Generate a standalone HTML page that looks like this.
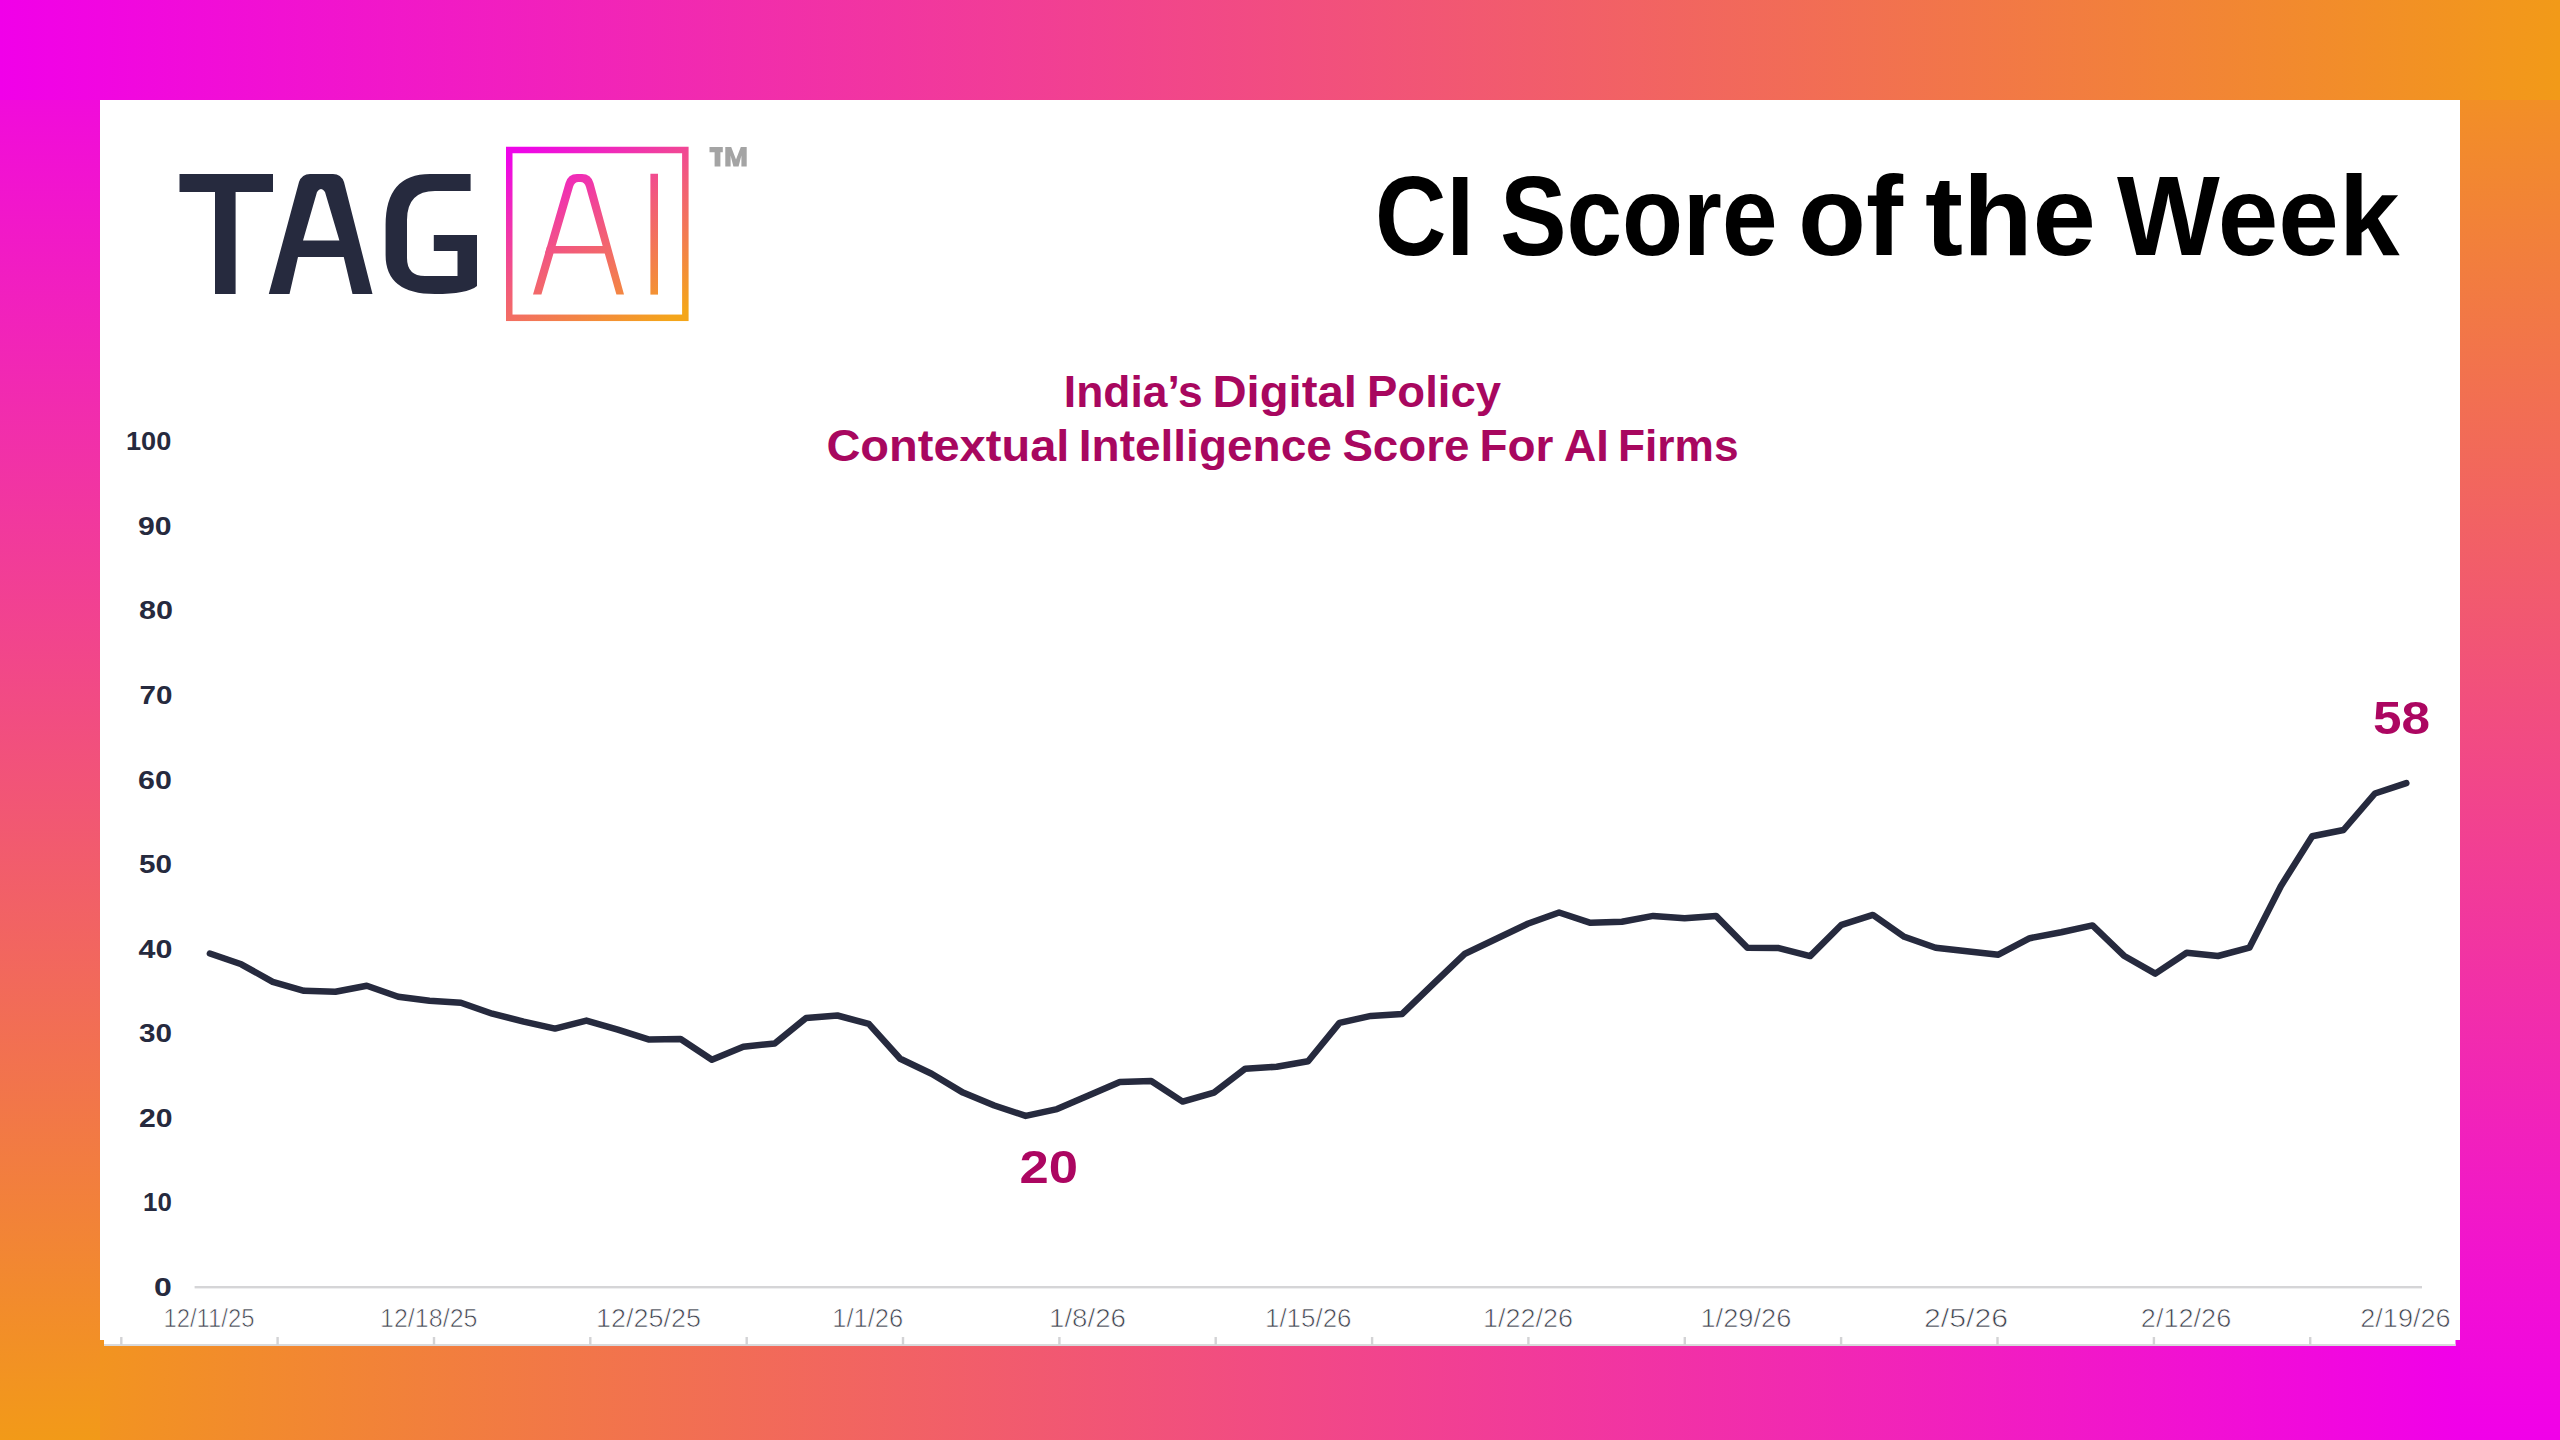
<!DOCTYPE html>
<html><head><meta charset="utf-8">
<style>
html,body{margin:0;padding:0;width:2560px;height:1440px;overflow:hidden;background:#fff}
.bg{position:absolute}
svg{position:absolute;left:0;top:0}
</style></head><body>
<div class="bg" style="left:0;top:0;width:2560px;height:100px;background:linear-gradient(90deg,#F100E9,#F29A18)"></div>
<div class="bg" style="left:0;top:100px;width:100px;height:1340px;background:linear-gradient(180deg,#F10BDB,#F29A18)"></div>
<div class="bg" style="left:2460px;top:100px;width:100px;height:1340px;background:linear-gradient(180deg,#F28F26,#F100E9)"></div>
<div class="bg" style="left:100px;top:1340px;width:2360px;height:100px;background:linear-gradient(90deg,#F29420 0px,#F100E9 2360px)"></div>
<svg width="2560" height="1440" viewBox="0 0 2560 1440">
<defs>
<linearGradient id="aig" x1="540" y1="140" x2="655" y2="328" gradientUnits="userSpaceOnUse">
<stop offset="0" stop-color="#EE06E8"/><stop offset="0.5" stop-color="#F25C7A"/><stop offset="1" stop-color="#F4A51A"/>
</linearGradient>
</defs>
<rect x="100" y="100" width="2360" height="1240" fill="#fff"/>
<rect x="104" y="1340" width="2351.5" height="6" fill="#fff"/>
<rect x="104" y="1344" width="2351.5" height="2" fill="#D9D9DB"/>
<g fill="#D3D3D5"><rect x="120.1" y="1337" width="2.4" height="8"/><rect x="276.4" y="1337" width="2.4" height="8"/><rect x="432.8" y="1337" width="2.4" height="8"/><rect x="589.1" y="1337" width="2.4" height="8"/><rect x="745.5" y="1337" width="2.4" height="8"/><rect x="901.8" y="1337" width="2.4" height="8"/><rect x="1058.2" y="1337" width="2.4" height="8"/><rect x="1214.5" y="1337" width="2.4" height="8"/><rect x="1370.9" y="1337" width="2.4" height="8"/><rect x="1527.2" y="1337" width="2.4" height="8"/><rect x="1683.6" y="1337" width="2.4" height="8"/><rect x="1839.9" y="1337" width="2.4" height="8"/><rect x="1996.3" y="1337" width="2.4" height="8"/><rect x="2152.7" y="1337" width="2.4" height="8"/><rect x="2309.0" y="1337" width="2.4" height="8"/></g>
<g fill="#262A3E">
<path d="M179.5 174 H273 V192 H235.6 V294 H215 V192 H179.5 Z"/>
<path d="M268.8 294 L299 182 Q302 174 310 174 H333 Q341 174 344 182 L372.5 294 H352.5 L343.75 257 H298 L289.5 294 Z M303 240.6 H339.4 L325 192 Q321 186 317 192 Z"/>
<path d="M470.6 174 V191 H435 Q407 191 407 220 V258 Q407 276 425 276 H457.5 V251 H433.8 V235 H477 V286 Q467 294 435 294 Q385.6 294 385.6 255 V225 Q385.6 174 430 174 Z"/>
</g>
<rect x="509.25" y="150" width="176.1" height="167.8" fill="none" stroke="url(#aig)" stroke-width="6.5"/>
<g fill="url(#aig)">
<path d="M533 294.6 L565.5 183 Q568 174 577 174 H582 Q591 174 593.5 183 L624 294.6 H616.4 L586 187 Q584.5 182 580.5 182 H578.5 Q574.5 182 573 187 L541.4 294.6 Z"/>
<path d="M547.15 246 L609.8 246 L612.06 253.6 L544.94 253.6 Z"/>
<rect x="650.4" y="173.75" width="7.6" height="120.85"/>
</g>
<g fill="#A4A4A4">
<path d="M709.5 147 H722.8 V152.3 H720.4 V166.5 H714.6 V152.3 H709.5 Z"/>
<path d="M725.3 147 H731.2 L736 159.5 L740.8 147 H746.7 V166.5 H741.4 V155.5 L738.6 166.5 H733.4 L730.6 155.5 V166.5 H725.3 Z"/>
</g>
<text x="1375.00" y="254.70" font-family="Liberation Sans, sans-serif" font-weight="bold" font-size="114" fill="#000" text-anchor="start" textLength="99.00" lengthAdjust="spacingAndGlyphs">CI</text>
<text x="1500.00" y="254.70" font-family="Liberation Sans, sans-serif" font-weight="bold" font-size="114" fill="#000" text-anchor="start" textLength="277.50" lengthAdjust="spacingAndGlyphs">Score</text>
<text x="1798.00" y="254.70" font-family="Liberation Sans, sans-serif" font-weight="bold" font-size="114" fill="#000" text-anchor="start" textLength="105.00" lengthAdjust="spacingAndGlyphs">of</text>
<text x="1925.00" y="254.70" font-family="Liberation Sans, sans-serif" font-weight="bold" font-size="114" fill="#000" text-anchor="start" textLength="171.00" lengthAdjust="spacingAndGlyphs">the</text>
<text x="2117.00" y="254.70" font-family="Liberation Sans, sans-serif" font-weight="bold" font-size="114" fill="#000" text-anchor="start" textLength="282.50" lengthAdjust="spacingAndGlyphs">Week</text>
<text x="1063.80" y="406.70" font-family="Liberation Sans, sans-serif" font-weight="bold" font-size="45" fill="#A8075F" text-anchor="start" textLength="139.00" lengthAdjust="spacingAndGlyphs">India’s</text>
<text x="1212.40" y="406.70" font-family="Liberation Sans, sans-serif" font-weight="bold" font-size="45" fill="#A8075F" text-anchor="start" textLength="144.50" lengthAdjust="spacingAndGlyphs">Digital</text>
<text x="1367.00" y="406.70" font-family="Liberation Sans, sans-serif" font-weight="bold" font-size="45" fill="#A8075F" text-anchor="start" textLength="134.00" lengthAdjust="spacingAndGlyphs">Policy</text>
<text x="826.40" y="461.30" font-family="Liberation Sans, sans-serif" font-weight="bold" font-size="45" fill="#A8075F" text-anchor="start" textLength="243.00" lengthAdjust="spacingAndGlyphs">Contextual</text>
<text x="1078.80" y="461.30" font-family="Liberation Sans, sans-serif" font-weight="bold" font-size="45" fill="#A8075F" text-anchor="start" textLength="253.00" lengthAdjust="spacingAndGlyphs">Intelligence</text>
<text x="1342.40" y="461.30" font-family="Liberation Sans, sans-serif" font-weight="bold" font-size="45" fill="#A8075F" text-anchor="start" textLength="127.00" lengthAdjust="spacingAndGlyphs">Score</text>
<text x="1479.40" y="461.30" font-family="Liberation Sans, sans-serif" font-weight="bold" font-size="45" fill="#A8075F" text-anchor="start" textLength="74.00" lengthAdjust="spacingAndGlyphs">For</text>
<text x="1563.80" y="461.30" font-family="Liberation Sans, sans-serif" font-weight="bold" font-size="45" fill="#A8075F" text-anchor="start" textLength="45.00" lengthAdjust="spacingAndGlyphs">AI</text>
<text x="1618.00" y="461.30" font-family="Liberation Sans, sans-serif" font-weight="bold" font-size="45" fill="#A8075F" text-anchor="start" textLength="120.50" lengthAdjust="spacingAndGlyphs">Firms</text>
<text x="1019.60" y="1182.70" font-family="Liberation Sans, sans-serif" font-weight="bold" font-size="46.5" fill="#AC0661" text-anchor="start" textLength="58.50" lengthAdjust="spacingAndGlyphs">20</text>
<text x="2373.00" y="734.00" font-family="Liberation Sans, sans-serif" font-weight="bold" font-size="46.5" fill="#AC0661" text-anchor="start" textLength="57.00" lengthAdjust="spacingAndGlyphs">58</text>
<text x="154.00" y="1295.80" font-family="Liberation Sans, sans-serif" font-weight="bold" font-size="25" fill="#262A3E" text-anchor="start" textLength="17.80" lengthAdjust="spacingAndGlyphs">0</text>
<text x="143.00" y="1211.25" font-family="Liberation Sans, sans-serif" font-weight="bold" font-size="25" fill="#262A3E" text-anchor="start" textLength="28.80" lengthAdjust="spacingAndGlyphs">10</text>
<text x="139.00" y="1126.70" font-family="Liberation Sans, sans-serif" font-weight="bold" font-size="25" fill="#262A3E" text-anchor="start" textLength="33.60" lengthAdjust="spacingAndGlyphs">20</text>
<text x="139.00" y="1042.15" font-family="Liberation Sans, sans-serif" font-weight="bold" font-size="25" fill="#262A3E" text-anchor="start" textLength="33.00" lengthAdjust="spacingAndGlyphs">30</text>
<text x="138.50" y="957.60" font-family="Liberation Sans, sans-serif" font-weight="bold" font-size="25" fill="#262A3E" text-anchor="start" textLength="33.85" lengthAdjust="spacingAndGlyphs">40</text>
<text x="139.00" y="873.05" font-family="Liberation Sans, sans-serif" font-weight="bold" font-size="25" fill="#262A3E" text-anchor="start" textLength="33.00" lengthAdjust="spacingAndGlyphs">50</text>
<text x="138.00" y="788.50" font-family="Liberation Sans, sans-serif" font-weight="bold" font-size="25" fill="#262A3E" text-anchor="start" textLength="33.80" lengthAdjust="spacingAndGlyphs">60</text>
<text x="139.50" y="703.95" font-family="Liberation Sans, sans-serif" font-weight="bold" font-size="25" fill="#262A3E" text-anchor="start" textLength="32.95" lengthAdjust="spacingAndGlyphs">70</text>
<text x="139.00" y="619.40" font-family="Liberation Sans, sans-serif" font-weight="bold" font-size="25" fill="#262A3E" text-anchor="start" textLength="34.00" lengthAdjust="spacingAndGlyphs">80</text>
<text x="138.00" y="534.85" font-family="Liberation Sans, sans-serif" font-weight="bold" font-size="25" fill="#262A3E" text-anchor="start" textLength="33.60" lengthAdjust="spacingAndGlyphs">90</text>
<text x="126.00" y="450.30" font-family="Liberation Sans, sans-serif" font-weight="bold" font-size="25" fill="#262A3E" text-anchor="start" textLength="45.30" lengthAdjust="spacingAndGlyphs">100</text>
<text x="163.40" y="1326.60" font-family="Liberation Sans, sans-serif" font-weight="normal" font-size="26" fill="#3E424E" text-anchor="start" textLength="91.00" lengthAdjust="spacingAndGlyphs" stroke="#fff" stroke-width="0.7">12/11/25</text>
<text x="380.00" y="1326.60" font-family="Liberation Sans, sans-serif" font-weight="normal" font-size="26" fill="#3E424E" text-anchor="start" textLength="97.50" lengthAdjust="spacingAndGlyphs" stroke="#fff" stroke-width="0.7">12/18/25</text>
<text x="596.00" y="1326.60" font-family="Liberation Sans, sans-serif" font-weight="normal" font-size="26" fill="#3E424E" text-anchor="start" textLength="105.00" lengthAdjust="spacingAndGlyphs" stroke="#fff" stroke-width="0.7">12/25/25</text>
<text x="832.20" y="1326.60" font-family="Liberation Sans, sans-serif" font-weight="normal" font-size="26" fill="#3E424E" text-anchor="start" textLength="71.00" lengthAdjust="spacingAndGlyphs" stroke="#fff" stroke-width="0.7">1/1/26</text>
<text x="1049.00" y="1326.60" font-family="Liberation Sans, sans-serif" font-weight="normal" font-size="26" fill="#3E424E" text-anchor="start" textLength="77.00" lengthAdjust="spacingAndGlyphs" stroke="#fff" stroke-width="0.7">1/8/26</text>
<text x="1265.00" y="1326.60" font-family="Liberation Sans, sans-serif" font-weight="normal" font-size="26" fill="#3E424E" text-anchor="start" textLength="86.50" lengthAdjust="spacingAndGlyphs" stroke="#fff" stroke-width="0.7">1/15/26</text>
<text x="1483.00" y="1326.60" font-family="Liberation Sans, sans-serif" font-weight="normal" font-size="26" fill="#3E424E" text-anchor="start" textLength="90.00" lengthAdjust="spacingAndGlyphs" stroke="#fff" stroke-width="0.7">1/22/26</text>
<text x="1700.40" y="1326.60" font-family="Liberation Sans, sans-serif" font-weight="normal" font-size="26" fill="#3E424E" text-anchor="start" textLength="91.00" lengthAdjust="spacingAndGlyphs" stroke="#fff" stroke-width="0.7">1/29/26</text>
<text x="1924.00" y="1326.60" font-family="Liberation Sans, sans-serif" font-weight="normal" font-size="26" fill="#3E424E" text-anchor="start" textLength="84.00" lengthAdjust="spacingAndGlyphs" stroke="#fff" stroke-width="0.7">2/5/26</text>
<text x="2140.80" y="1326.60" font-family="Liberation Sans, sans-serif" font-weight="normal" font-size="26" fill="#3E424E" text-anchor="start" textLength="90.50" lengthAdjust="spacingAndGlyphs" stroke="#fff" stroke-width="0.7">2/12/26</text>
<text x="2360.20" y="1326.60" font-family="Liberation Sans, sans-serif" font-weight="normal" font-size="26" fill="#3E424E" text-anchor="start" textLength="90.50" lengthAdjust="spacingAndGlyphs" stroke="#fff" stroke-width="0.7">2/19/26</text>
<rect x="194.6" y="1286" width="2227.4" height="2.4" fill="#D5D5D7"/>
<path d="M209.9 953.5 L241.3 964.3 L272.7 981.8 L304.0 990.8 L335.4 991.8 L366.8 985.8 L398.2 996.7 L429.5 1000.7 L460.9 1002.7 L492.3 1013.7 L523.7 1021.6 L555.0 1028.6 L586.4 1020.6 L617.8 1029.6 L649.2 1039.6 L680.6 1039.0 L711.9 1059.7 L743.3 1046.8 L774.7 1043.4 L806.1 1017.9 L837.4 1015.5 L868.8 1023.9 L900.2 1058.7 L931.6 1073.7 L963.0 1092.6 L994.3 1105.5 L1025.7 1115.9 L1057.1 1109.1 L1088.5 1095.6 L1119.8 1082.0 L1151.2 1081.0 L1182.6 1101.6 L1214.0 1092.6 L1245.3 1068.7 L1276.7 1066.7 L1308.1 1061.3 L1339.5 1022.9 L1370.9 1015.9 L1402.2 1013.9 L1433.6 983.6 L1465.0 953.7 L1496.4 938.8 L1527.7 923.8 L1559.1 912.5 L1590.5 922.8 L1621.9 921.8 L1653.2 915.9 L1684.6 918.2 L1716.0 915.9 L1747.4 947.7 L1778.8 948.1 L1810.1 956.1 L1841.5 924.8 L1872.9 914.9 L1904.3 936.8 L1935.6 947.7 L1967.0 951.3 L1998.4 954.7 L2029.8 938.2 L2061.2 932.2 L2092.5 925.4 L2123.9 955.7 L2155.3 973.6 L2186.7 952.7 L2218.0 956.0 L2249.4 947.7 L2280.8 886.2 L2312.2 836.2 L2343.5 830.0 L2374.9 793.5 L2406.3 783.1" fill="none" stroke="#262A3E" stroke-width="6.5" stroke-linejoin="round" stroke-linecap="round"/>
</svg>
</body></html>
